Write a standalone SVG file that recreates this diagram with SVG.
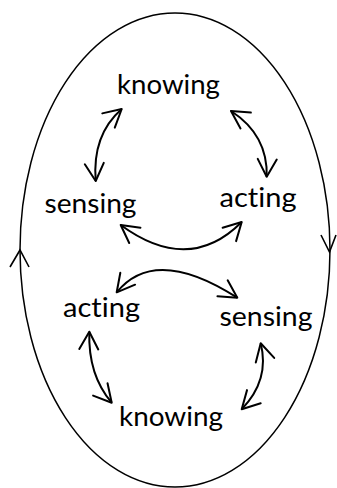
<svg xmlns="http://www.w3.org/2000/svg" width="337" height="488" viewBox="0 0 337 488">
<style>
.lbl{font-family:Lato,"Open Sans","Liberation Sans",sans-serif;font-size:27.5px;fill:#000;font-variant-ligatures:none;font-feature-settings:"liga" 0,"clig" 0}
.arr{fill:none;stroke:#000;stroke-width:2;marker-start:url(#ah);marker-end:url(#ah)}
.ring{fill:none;stroke:#000;stroke-width:1.5}
.chev{fill:none;stroke:#000;stroke-width:1.6;stroke-linejoin:miter}
</style>
<defs>
<marker id="ah" viewBox="-22 -12 24 24" refX="0" refY="0" markerWidth="24" markerHeight="24" markerUnits="userSpaceOnUse" orient="auto-start-reverse">
<path d="M -17.5 -9.5 L 0 0 L -17.5 9.5" fill="none" stroke="#000" stroke-width="2" stroke-linecap="round" stroke-linejoin="round"/>
</marker>
</defs>
<rect width="337" height="488" fill="#fff"/>
<g id="cycle">
<ellipse class="ring" cx="175" cy="250" rx="155" ry="237"/>
<path class="chev" d="M 10 267 L 20 250 L 29 267"/>
<path class="chev" d="M 321 235 L 329.5 252 L 336 235"/>
</g>
<g id="connectors">
<path class="arr" d="M 121.7 109 Q 92 135 95.7 181"/>
<path class="arr" d="M 231 111 Q 268 135 266.7 176.7"/>
<path class="arr" d="M 120.7 225 Q 189 275 241.7 222"/>
<path class="arr" d="M 116.7 292.3 Q 155 245 237.3 297.7"/>
<path class="arr" d="M 89.3 331.7 Q 88 375 111.7 402.7"/>
<path class="arr" d="M 260.7 343.3 Q 270 380 241.7 409.3"/>
</g>
<g id="knowing-top"><text class="lbl" x="117" y="94" textLength="103" lengthAdjust="spacingAndGlyphs">knowing</text></g>
<g id="sensing-top"><text class="lbl" x="44.5" y="213.3" textLength="92" lengthAdjust="spacingAndGlyphs">sensing</text></g>
<g id="acting-top"><text class="lbl" x="219.5" y="206.7" textLength="77" lengthAdjust="spacingAndGlyphs">acting</text></g>
<g id="acting-bottom"><text class="lbl" x="63" y="316.7" textLength="77" lengthAdjust="spacingAndGlyphs">acting</text></g>
<g id="sensing-bottom"><text class="lbl" x="219.5" y="325.7" textLength="93" lengthAdjust="spacingAndGlyphs">sensing</text></g>
<g id="knowing-bottom"><text class="lbl" x="119" y="426" textLength="104" lengthAdjust="spacingAndGlyphs">knowing</text></g>
</svg>
